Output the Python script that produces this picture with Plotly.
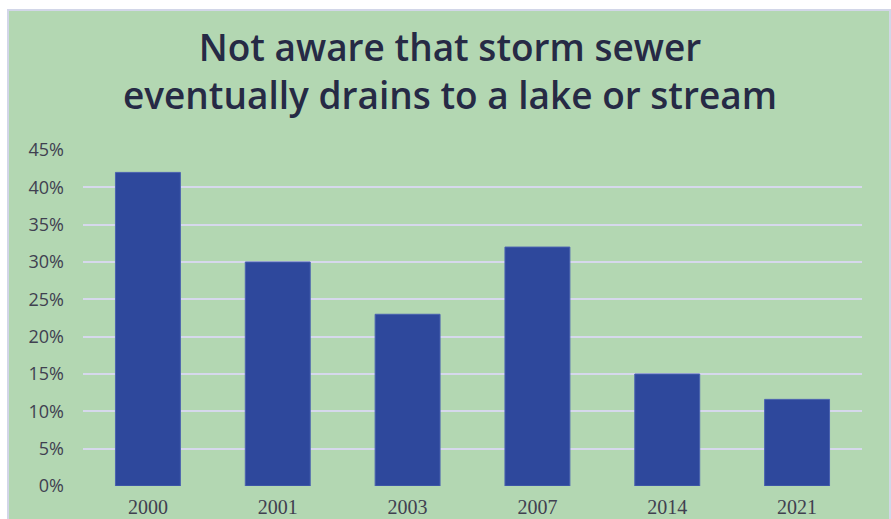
import plotly.graph_objects as go

# Survey years and share of respondents not aware
years = ['2000', '2001', '2003', '2007', '2014', '2021']
not_aware = [0.42, 0.30, 0.23, 0.32, 0.15, 0.116]
title_text = 'Not aware that storm sewer<br>eventually drains to a lake or stream'

W, H = 891, 519
ML, MR, MT, MB = 83, 29, 150, 33
pw, ph = W - ML - MR, H - MT - MB


def py(y):
    # page pixel row -> paper y fraction
    return (MT + ph - y) / ph


def px(x):
    return (x - ML) / pw


fig = go.Figure()
fig.add_trace(go.Bar(
    x=years, y=not_aware,
    marker=dict(color='#2e489c', line=dict(color='#4a62b0', width=1)),
    hoverinfo='x+y',
))

# green panel with lavender border, white strip at top/left like the source
fig.add_shape(type='rect', xref='paper', yref='paper', layer='below',
              x0=px(8), x1=px(890), y0=py(530), y1=py(10),
              fillcolor='#b3d7b2', line=dict(color='#d2d6e8', width=2))

fig.update_layout(
    width=W, height=H,
    margin=dict(l=ML, r=MR, t=MT, b=MB, autoexpand=False),
    paper_bgcolor='white',
    plot_bgcolor='rgba(0,0,0,0)',
    bargap=0.5,
    showlegend=False,
    title=dict(
        text=title_text,
        xref='container', yref='container',
        x=450 / W, xanchor='center', y=1 - 61 / H, yanchor='middle',
        font=dict(family='Open Sans', size=37, color='#262a45', weight=600),
    ),
    xaxis=dict(
        showgrid=False, showline=False, zeroline=False, automargin=False,
        tickfont=dict(family='Liberation Serif', size=20, color='#404050'),
        ticklabelstandoff=7,
    ),
    yaxis=dict(
        range=[0, 0.45], dtick=0.05, tickformat='.0%',
        gridcolor='#d6d8ec', gridwidth=2,
        zeroline=False, showline=False, automargin=False,
        tickfont=dict(family='Open Sans', size=18, color='#404050'),
        ticklabelstandoff=18,
    ),
)

fig.write_html('out.html', config={'displayModeBar': False},
               post_script="document.body.style.margin='0';")
